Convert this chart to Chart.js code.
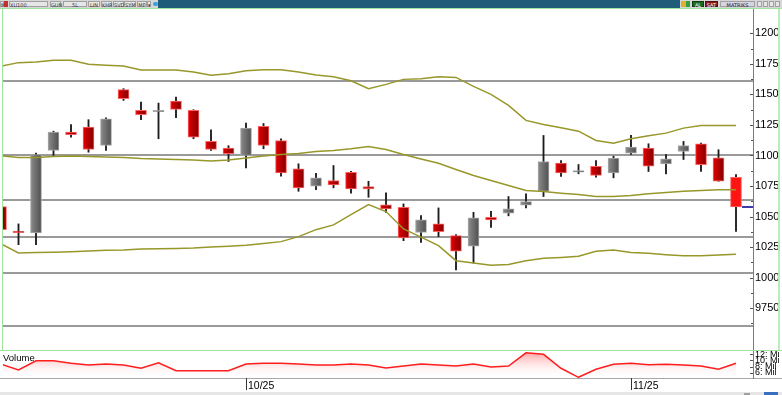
<!DOCTYPE html>
<html>
<head>
<meta charset="utf-8">
<script src="https://cdn.jsdelivr.net/npm/chart.js@4"></script>
<style>
  body { margin: 0; width: 782px; height: 395px; overflow: hidden; background: #fff; position: relative; font-family: "Liberation Sans", Arial, sans-serif; }
  .a { position: absolute; }
  .btn { position: absolute; top: 1px; height: 6px; border: 1px solid #a0a0a0; background: #e6e6e6; font: 5px "DejaVu Sans"; line-height: 6px; color: #333; text-align: center; box-sizing: border-box; }
  canvas { position: absolute; }
</style>
</head>
<body>
<!-- toolbar -->
<div class="a" style="left:0;top:0;width:782px;height:8px;background:#d6d6d6"></div>
<div class="a" style="left:158px;top:0;width:522px;height:8px;background:#1f5c7a"></div>
<div class="btn" style="left:0;width:4px">M</div>
<div class="a" style="left:4px;top:1px;width:4px;height:6px;background:#c03030"></div>
<div class="btn" style="left:9px;width:39px;text-align:left">XU100</div>
<div class="btn" style="left:50px;width:11px">GUN</div>
<div class="btn" style="left:63px;width:24px">5L</div>
<div class="btn" style="left:88px;width:12px">LIN</div>
<div class="btn" style="left:101px;width:11px">KHR</div>
<div class="btn" style="left:113px;width:11px">SVD</div>
<div class="btn" style="left:124px;width:12px">SYM</div>
<div class="btn" style="left:137px;width:10px">MP</div>
<div class="btn" style="left:147px;width:4px">▾</div>
<div class="a" style="left:153px;top:2px;width:5px;height:4px;background:#3aa0e0;border-radius:2px"></div>
<div class="a" style="left:681px;top:1px;width:5px;height:6px;background:#e0b030"></div>
<div class="a" style="left:686px;top:1px;width:4px;height:6px;background:#30a040"></div>
<div class="btn" style="left:692px;width:12px;background:#1e6b1e;color:#fff;border-color:#0f3f0f">AL</div>
<div class="btn" style="left:705px;width:13px;background:#8b1a1a;color:#fff;border-color:#501010">SAT</div>
<div class="btn" style="left:720px;width:35px;background:#d4d4e2;color:#223">MATRIKS</div>
<div class="btn" style="left:757px;width:5px"></div>
<div class="btn" style="left:763px;width:5px"></div>
<div class="btn" style="left:769px;width:5px"></div>
<div class="btn" style="left:775px;width:5px"></div>

<!-- panel frame -->
<div class="a" style="left:0;top:8px;width:782px;height:1px;background:#9fe39f"></div>
<div class="a" style="left:2px;top:9px;width:1px;height:341px;background:#9fe39f"></div>
<div class="a" style="left:0;top:350px;width:782px;height:1px;background:#9fe39f"></div>
<div class="a" style="left:0;top:378px;width:782px;height:1px;background:#a8a8a8"></div>
<div class="a" style="left:0;top:392px;width:782px;height:3px;background:#e6e6e6"></div>
<div class="a" style="left:744px;top:393px;width:6px;height:2px;background:#a0a0a0"></div>
<div class="a" style="left:764px;top:392px;width:14px;height:3px;background:#3a6fc0"></div>

<canvas id="main" width="776" height="341" style="left:3px;top:9px"></canvas>
<canvas id="vol" width="776" height="41" style="left:3px;top:351px"></canvas>
<div class="a" style="left:778px;top:9px;width:2px;height:341px;background:#b8ecb8"></div>
<div class="a" style="left:3px;top:352px;font-size:9.5px;color:#000">Volume</div>

<script>
const dates = ["10/05","10/06","10/07","10/10","10/11","10/12","10/13","10/14","10/17","10/18",
  "10/19","10/20","10/21","10/24","10/25","10/26","10/27","10/28","10/31","11/01",
  "11/02","11/03","11/04","11/07","11/08","11/09","11/10","11/11","11/14","11/15",
  "11/16","11/17","11/18","11/21","11/22","11/23","11/25","11/28","11/29","11/30",
  "12/01","12/02","12/05"];
const dateTicks = ["10/25", "11/25"];

const open  = [10582,10381,10366,11041,11191,11232,11082,11539,11369,11358,11445,11369,11115,11060,11000,11238,11123,10891,10748,10795,10863,10746,10596,10576,10371,10440,10344,10257,10494,10527,10593,10705,10937,10863,10912,10858,11019,11060,10932,11033,11096,10981,10822];
const high  = [10590,10440,11019,11199,11252,11293,11309,11547,11437,11429,11478,11375,11211,11080,11265,11262,11137,10932,10855,10918,10871,10789,10694,10604,10508,10571,10352,10535,10543,10664,10686,11164,10959,10926,10959,10994,11164,11096,11008,11115,11101,11047,10844];
const low   = [10385,10270,10270,11000,11150,11027,11041,11451,11293,11137,11309,11137,11041,10951,10899,11055,10830,10707,10721,10735,10691,10658,10535,10303,10289,10336,10063,10120,10412,10506,10571,10664,10828,10850,10822,10817,11008,10869,10850,10967,10869,10789,10379];
const close = [10393,10368,11008,11191,11170,11049,11301,11465,11334,11369,11377,11150,11049,11014,11224,11082,10858,10735,10817,10760,10727,10727,10563,10325,10473,10377,10216,10489,10473,10563,10623,10951,10858,10877,10836,10978,11068,10912,10973,11082,10924,10789,10580];

const bandUpper  = [11732,11760,11765,11779,11779,11746,11738,11732,11699,11699,11699,11683,11656,11670,11694,11702,11702,11683,11658,11645,11612,11547,11582,11623,11629,11645,11639,11566,11500,11410,11287,11254,11227,11199,11123,11101,11137,11161,11183,11224,11246,11246,11246];
const bandMiddle = [10998,10984,10984,10992,10996,10992,10988,10984,10975,10971,10967,10963,10955,10963,10980,10996,11008,11016,11033,11041,11055,11074,11049,11008,10971,10937,10885,10836,10795,10754,10713,10705,10691,10680,10664,10664,10672,10686,10697,10707,10713,10719,10719];
const bandLower  = [10277,10202,10205,10209,10213,10219,10224,10227,10234,10236,10239,10243,10252,10258,10266,10279,10295,10336,10393,10432,10516,10598,10541,10399,10332,10262,10139,10120,10102,10107,10139,10158,10166,10175,10216,10227,10207,10199,10188,10180,10180,10186,10191];

// volume in millions
const volume = [8.84,6.88,9.91,9.91,9.07,8.51,8.84,8.51,7.44,9.26,6.65,6.65,6.65,6.65,8.84,9.07,9.07,8.84,8.51,8.51,8.84,8.51,7.5,8.2,8.84,8.51,8.2,8.84,7.9,8.19,12.5,12.0,7.44,4.5,7.11,8.74,9.07,8.61,8.74,8.51,8.19,7.11,9.07];
const volTicks = [6, 8, 10, 12];

// horizontal support / resistance lines
const levels = [11610, 11000, 10635, 10335, 10035, 9605];

const X_MIN = 0.114, X_MAX = 42.971;
const last = close.length - 1;

function noPad(s) {
  s.paddingTop = 0; s.paddingBottom = 0; s.paddingLeft = 0; s.paddingRight = 0;
}

function bodyFill(c) {
  if (c.type !== 'data') return '#c00';
  const i = c.dataIndex;
  const up = close[i] >= open[i];
  if (i === last) return '#ff1414';
  const x = c.chart.scales.x ? c.chart.scales.x.getPixelForValue(i) : NaN;
  if (!isFinite(x)) return up ? '#6e6e6e' : '#b00000';
  const g = c.chart.ctx.createLinearGradient(x - 6, 0, x + 6, 0);
  if (up) {
    g.addColorStop(0, '#8e8e8e');
    g.addColorStop(1, '#4c4c4c');
  } else {
    g.addColorStop(0, '#e80000');
    g.addColorStop(1, '#7c0000');
  }
  return g;
}
function bodyBorder(c) {
  if (c.type !== 'data') return '#f66';
  return close[c.dataIndex] >= open[c.dataIndex] ? '#a9a9a9' : '#ff6464';
}

const yTickMarks = {
  id: 'yTickMarks',
  afterDraw(chart) {
    const y = chart.scales.y, ctx = chart.ctx;
    ctx.save();
    ctx.strokeStyle = '#555';
    ctx.lineWidth = 1;
    y.ticks.forEach(t => {
      const py = Math.round(y.getPixelForValue(t.value)) + 0.5;
      const len = t.label ? 3 : 2;
      ctx.beginPath();
      ctx.moveTo(y.left - len, py);
      ctx.lineTo(y.left, py);
      ctx.stroke();
    });
    ctx.restore();
  }
};

const levelLines = {
  id: 'levelLines',
  beforeDatasetsDraw(chart) {
    const { ctx, chartArea, scales: { y } } = chart;
    ctx.save();
    ctx.strokeStyle = '#9a9a9a';
    ctx.lineWidth = 2;
    levels.forEach(v => {
      const py = Math.round(y.getPixelForValue(v));
      ctx.beginPath();
      ctx.moveTo(chartArea.left, py);
      ctx.lineTo(chartArea.right, py);
      ctx.stroke();
    });
    ctx.restore();
  },
  afterDatasetsDraw(chart) {
    const { ctx, chartArea, scales: { y, x } } = chart;
    const py = Math.round(y.getPixelForValue(close[last]));
    ctx.save();
    ctx.strokeStyle = '#3c3ca8';
    ctx.lineWidth = 2;
    ctx.beginPath();
    ctx.moveTo(x.getPixelForValue(last) + 6, py);
    ctx.lineTo(chartArea.right, py);
    ctx.stroke();
    ctx.restore();
  }
};

const bandStyle = { type: 'line', borderColor: '#97972a', borderWidth: 1.5, pointRadius: 0, tension: 0, fill: false, order: 0 };

new Chart(document.getElementById('main').getContext('2d'), {
  type: 'bar',
  data: {
    datasets: [
      Object.assign({ data: bandUpper.map((v, i) => ({ x: i, y: v })) }, bandStyle),
      Object.assign({ data: bandMiddle.map((v, i) => ({ x: i, y: v })) }, bandStyle),
      Object.assign({ data: bandLower.map((v, i) => ({ x: i, y: v })) }, bandStyle),
      {
        data: open.map((o, i) => ({ x: i, y: [o, close[i]] })),
        backgroundColor: bodyFill,
        borderColor: bodyBorder,
        borderWidth: 1,
        borderSkipped: false,
        barThickness: 11,
        grouped: false,
        order: 1
      },
      {
        data: low.map((l, i) => ({ x: i, y: [l, high[i]] })),
        backgroundColor: '#1c1c1c',
        barThickness: 1.2,
        grouped: false,
        order: 2
      }
    ]
  },
  options: {
    responsive: false,
    animation: false,
    layout: { padding: 0, autoPadding: false },
    plugins: { legend: { display: false }, tooltip: { enabled: false } },
    scales: {
      x: { type: 'linear', min: X_MIN, max: X_MAX, offset: false, display: false },
      y: {
        position: 'right',
        min: 9408, max: 12199,
        afterFit: s => { s.width = 26; noPad(s); },
        afterBuildTicks: s => { s.ticks = s.ticks.filter(t => t.value % 125 === 0); },
        grid: { display: false, drawTicks: false },
        border: { display: true, color: '#7c7c7c', width: 1 },
        ticks: {
          stepSize: 125,
          autoSkip: false,
          padding: 2,
          color: '#000',
          font: { family: 'Liberation Sans', size: 11 },
          callback: v => (v % 250 === 0 ? v.toFixed(2) : '')
        }
      }
    }
  },
  plugins: [levelLines, yTickMarks]
});

new Chart(document.getElementById('vol').getContext('2d'), {
  type: 'line',
  data: {
    datasets: [{
      data: volume.map((v, i) => ({ x: i, y: v })),
      borderColor: '#ff1e1e',
      borderWidth: 1.5,
      pointRadius: 0,
      tension: 0,
      fill: 'start',
      backgroundColor: c => {
        const a = c.chart.chartArea;
        if (!a || !isFinite(a.top) || !isFinite(a.bottom)) return 'rgba(255,120,120,0.3)';
        const g = c.chart.ctx.createLinearGradient(0, a.top, 0, a.bottom);
        g.addColorStop(0, 'rgba(255,70,70,0.55)');
        g.addColorStop(1, 'rgba(255,255,255,0)');
        return g;
      }
    }]
  },
  options: {
    responsive: false,
    animation: false,
    layout: { padding: 0, autoPadding: false },
    plugins: { legend: { display: false }, tooltip: { enabled: false } },
    scales: {
      x: {
        type: 'linear', min: X_MIN, max: X_MAX, offset: false,
        afterFit: s => { s.height = 14; noPad(s); },
        afterBuildTicks: s => { s.ticks = dateTicks.map(d => ({ value: dates.indexOf(d) })); },
        grid: { display: true, drawOnChartArea: false, drawTicks: true, tickLength: 12, color: '#333' },
        border: { display: false },
        ticks: {
          autoSkip: false, maxRotation: 0, align: 'start', labelOffset: 2, padding: -10,
          color: '#000', font: { family: 'Liberation Sans', size: 10.5 },
          callback: v => dates[v]
        }
      },
      y: {
        position: 'right',
        min: 4.27, max: 13.08,
        afterFit: s => { s.width = 26; noPad(s); },
        afterBuildTicks: s => { s.ticks = volTicks.map(v => ({ value: v })); },
        grid: { display: false, drawTicks: false },
        border: { display: true, color: '#7c7c7c', width: 1 },
        ticks: {
          autoSkip: false, padding: 2, color: '#000',
          font: { family: 'Liberation Sans', size: 9 },
          callback: v => v + ': Mil'
        }
      }
    }
  },
  plugins: [yTickMarks]
});
</script>
</body>
</html>
